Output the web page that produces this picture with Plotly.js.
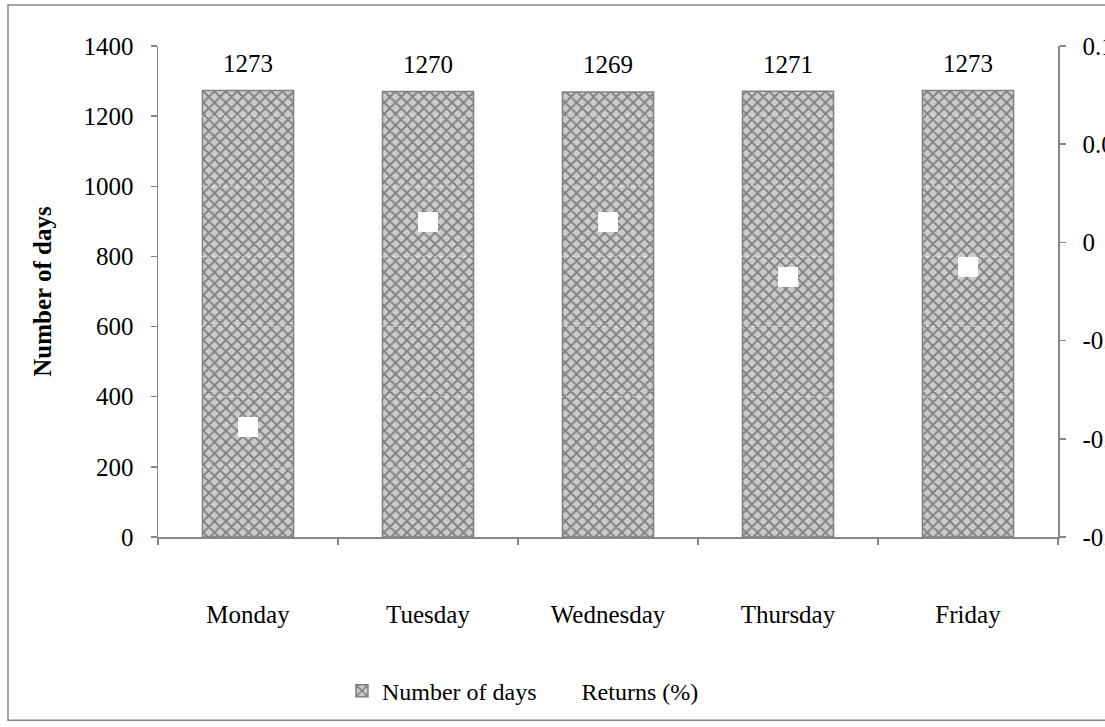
<!DOCTYPE html>
<html>
<head>
<meta charset="utf-8">
<script src="https://cdn.plot.ly/plotly-3.0.1.min.js"></script>
<style>html,body{margin:0;padding:0;background:#fff;}#chart{width:1105px;height:727px;}</style>
</head>
<body>
<div id="chart"></div>
<script>
var days = ["Monday", "Tuesday", "Wednesday", "Thursday", "Friday"];
var numberOfDays = [1273, 1270, 1269, 1271, 1273];
var returnsPct = [-0.094, 0.0104, 0.0104, -0.0176, -0.0125];
var leftTicks = [0, 200, 400, 600, 800, 1000, 1200, 1400];
var rightTicks = [-0.15, -0.1, -0.05, 0, 0.05, 0.1];
var rightTickText = ["-0.15", "-0.1", "-0.05", "0", "0.05", "0.1"];

var font = "Liberation Serif, Times New Roman, serif";
var axisGray = "#868686";

var bars = {
  type: "bar",
  name: "Number of days",
  x: days,
  y: numberOfDays,
  yaxis: "y",
  marker: {
    color: "#c8c8c8",
    line: {color: "#808080", width: 1.5},
    pattern: {shape: "x", bgcolor: "#cbcbcb", fgcolor: "#828282", size: 8, solidity: 0.42, fillmode: "replace"}
  },
  hoverinfo: "x+y"
};

var rets = {
  type: "scatter",
  mode: "markers",
  name: "Returns (%)",
  x: days,
  y: returnsPct,
  yaxis: "y2",
  marker: {symbol: "square", size: 20, color: "#ffffff", line: {width: 0}}
};

var annotations = days.map(function (d, i) {
  return {x: d, y: numberOfDays[i], xref: "x", yref: "y", text: String(numberOfDays[i]),
    showarrow: false, yshift: 27, font: {family: font, size: 25, color: "#000"}};
});

var shapes = [{
  type: "rect", xref: "paper", yref: "paper",
  x0: -0.1667, x1: 1.2, y0: -0.373, y1: 1.0835,
  line: {color: "#888888", width: 1.5}, fillcolor: "rgba(0,0,0,0)", layer: "below"
}];
leftTicks.forEach(function (t) {
  if (t > 0 && t < 1400) {
    shapes.push({type: "line", xref: "paper", yref: "y", x0: 0, x1: 1, y0: t, y1: t,
      line: {color: "rgba(255,255,255,0.55)", width: 1, dash: "dot"}, layer: "above"});
  }
});

var layout = {
  width: 1105, height: 727,
  margin: {l: 158, r: 47, t: 46, b: 190, pad: 0},
  paper_bgcolor: "#ffffff",
  plot_bgcolor: "#ffffff",
  font: {family: font, size: 25, color: "#000"},
  bargap: 0.494,
  showlegend: true,
  legend: {orientation: "h", x: 0.2044, xanchor: "left", y: -0.314, yanchor: "middle",
    font: {family: font, size: 24, color: "#000"}, bgcolor: "rgba(0,0,0,0)", itemwidth: 30},
  xaxis: {
    type: "category",
    showline: true, linecolor: axisGray, linewidth: 1.5,
    ticks: "outside", tickson: "boundaries", ticklen: 6, tickcolor: axisGray, tickwidth: 1.5,
    ticklabelstandoff: 54,
    showgrid: false, zeroline: false,
    tickfont: {family: font, size: 25, color: "#000"}
  },
  yaxis: {
    range: [0, 1400], tickvals: leftTicks,
    showline: true, linecolor: axisGray, linewidth: 1.5,
    ticks: "outside", ticklen: 6, tickcolor: axisGray, tickwidth: 1.5,
    ticklabelstandoff: 12,
    showgrid: false, zeroline: false,
    tickfont: {family: font, size: 25, color: "#000"},
    title: {text: "<b>Number of days</b>", font: {family: font, size: 25, color: "#000"}, standoff: 25}
  },
  yaxis2: {
    overlaying: "y", side: "right",
    range: [-0.15, 0.1], tickvals: rightTicks, ticktext: rightTickText,
    showline: true, linecolor: axisGray, linewidth: 1.5,
    ticks: "outside", ticklen: 6, tickcolor: axisGray, tickwidth: 1.5,
    ticklabelstandoff: 12,
    showgrid: false, zeroline: false,
    tickfont: {family: font, size: 25, color: "#000"}
  },
  annotations: annotations,
  shapes: shapes
};

Plotly.newPlot("chart", [bars, rets], layout, {staticPlot: true, displayModeBar: false});
</script>
</body>
</html>
